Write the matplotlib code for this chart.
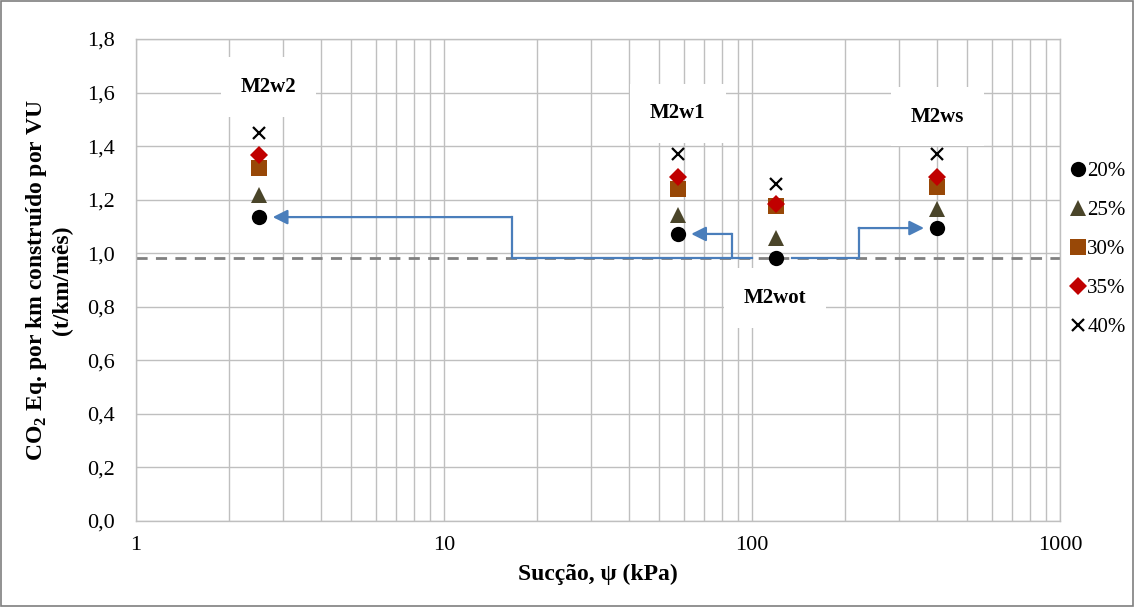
import matplotlib
matplotlib.use("Agg")
import matplotlib.pyplot as plt
from matplotlib.ticker import FixedLocator, FuncFormatter, LogLocator, NullFormatter
from matplotlib.patches import Rectangle

plt.rcParams['font.family'] = ['Liberation Serif', 'DejaVu Serif']
plt.rcParams['mathtext.fontset'] = 'custom'
plt.rcParams['mathtext.rm'] = 'Liberation Serif'
plt.rcParams['mathtext.bf'] = 'Liberation Serif:bold'

# Suction of each mixture (kPa)
suction = [2.5, 57.5, 120, 400]
mixes = ["M2w2", "M2w1", "M2wot", "M2ws"]

# CO2 Eq. per km built per service life, for each reclaimed-content level
series_labels = ["20%", "25%", "30%", "35%", "40%"]
co2_20 = [1.135, 1.072, 0.982, 1.094]
co2_25 = [1.217, 1.143, 1.057, 1.165]
co2_30 = [1.318, 1.240, 1.178, 1.247]
co2_35 = [1.366, 1.285, 1.184, 1.285]
co2_40 = [1.449, 1.370, 1.258, 1.370]
reference_level = 0.982

series_values = [co2_20, co2_25, co2_30, co2_35, co2_40]
markers = ["o", "^", "s", "D", "x"]
colors = ["#000000", "#4A452A", "#984807", "#C00000", "#000000"]
sizes = [11, 11, 11, 9, 9]

fig = plt.figure(figsize=(11.34, 6.07), dpi=100)
fig.patches.append(Rectangle((0.001, 0.001), 0.998, 0.997, transform=fig.transFigure,
                             fill=False, edgecolor="#7F7F7F", lw=1.2))
ax = fig.add_axes([0.1199, 0.1417, 0.8148, 0.794])

ax.set_xscale("log")
ax.set_xlim(1, 1000)
ax.set_ylim(0, 1.8)

grid_c = "#BFBFBF"
ax.xaxis.set_major_locator(LogLocator(base=10, numticks=10))
ax.xaxis.set_minor_locator(LogLocator(base=10, subs=range(2, 10), numticks=20))
ax.xaxis.set_minor_formatter(NullFormatter())
ax.xaxis.set_major_formatter(FuncFormatter(lambda v, p: f"{v:g}"))
ax.yaxis.set_major_locator(FixedLocator([i * 0.2 for i in range(10)]))
ax.yaxis.set_major_formatter(FuncFormatter(lambda v, p: f"{v:.1f}".replace(".", ",")))
ax.grid(True, which="both", axis="x", color=grid_c, lw=1.0)
ax.grid(True, which="major", axis="y", color=grid_c, lw=1.0)
ax.set_axisbelow(True)
ax.tick_params(axis="both", which="both", length=0, labelsize=16)
ax.tick_params(axis="x", pad=11)
ax.tick_params(axis="y", pad=15)
for s in ax.spines.values():
    s.set_color(grid_c)
    s.set_linewidth(1.0)

# Reference level (optimum moisture mix)
ax.axhline(reference_level, color="#808080", ls=(0, (4, 3)), lw=2.0, zorder=2)

# Arrows from the optimum mix to the others
arrow_c = "#4A7EBB"
arrow_kw = dict(arrowstyle="-|>", color=arrow_c, lw=1.6, mutation_scale=22, shrinkA=0, shrinkB=0)
ax.plot([100, 16.6, 16.6], [reference_level, reference_level, 1.135], color=arrow_c, lw=1.6, zorder=3)
ax.annotate("", xy=(2.78, 1.135), xytext=(16.6, 1.135), arrowprops=arrow_kw, zorder=3)
ax.plot([86, 86], [reference_level, 1.072], color=arrow_c, lw=1.6, zorder=3)
ax.annotate("", xy=(63.5, 1.072), xytext=(86, 1.072), arrowprops=arrow_kw, zorder=3)
ax.plot([135, 222, 222], [reference_level, reference_level, 1.094], color=arrow_c, lw=1.6, zorder=3)
ax.annotate("", xy=(362, 1.094), xytext=(222, 1.094), arrowprops=arrow_kw, zorder=3)

handles = []
for vals, lab, m, c, ms in zip(series_values, series_labels, markers, colors, sizes):
    if m == "x":
        h, = ax.plot(suction, vals, ls="none", marker=m, color=c, ms=ms, mew=1.6, label=lab, zorder=4)
    else:
        h, = ax.plot(suction, vals, ls="none", marker=m, color=c, ms=ms, mew=0, label=lab, zorder=4)
    handles.append(h)

# Mixture labels on white boxes
label_pos = [(2.7, 1.62), (57.5, 1.522), (119, 0.832), (400, 1.51)]
for name, (lx, ly) in zip(mixes, label_pos):
    ax.text(lx, ly, name, ha="center", va="center", fontsize=15, fontweight="bold", zorder=5,
            bbox=dict(boxstyle="square,pad=0.95", fc="white", ec="none"))

leg = ax.legend(handles=handles, loc="upper left", bbox_to_anchor=(0.997, 0.776),
                frameon=False, fontsize=15, handlelength=0.6, handletextpad=0.15,
                labelspacing=0.93, borderaxespad=0.3)

ax.set_xlabel("Sucção, ψ (kPa)", fontsize=17, fontweight="bold", labelpad=6)
ax.set_ylabel("CO$_\\mathbf{2}$ Eq. por km construído por VU\n(t/km/mês)", fontsize=17,
              fontweight="bold", linespacing=1.2)
ax.yaxis.set_label_coords(-0.068, 0.5)

fig.savefig("out.png", dpi=100)
